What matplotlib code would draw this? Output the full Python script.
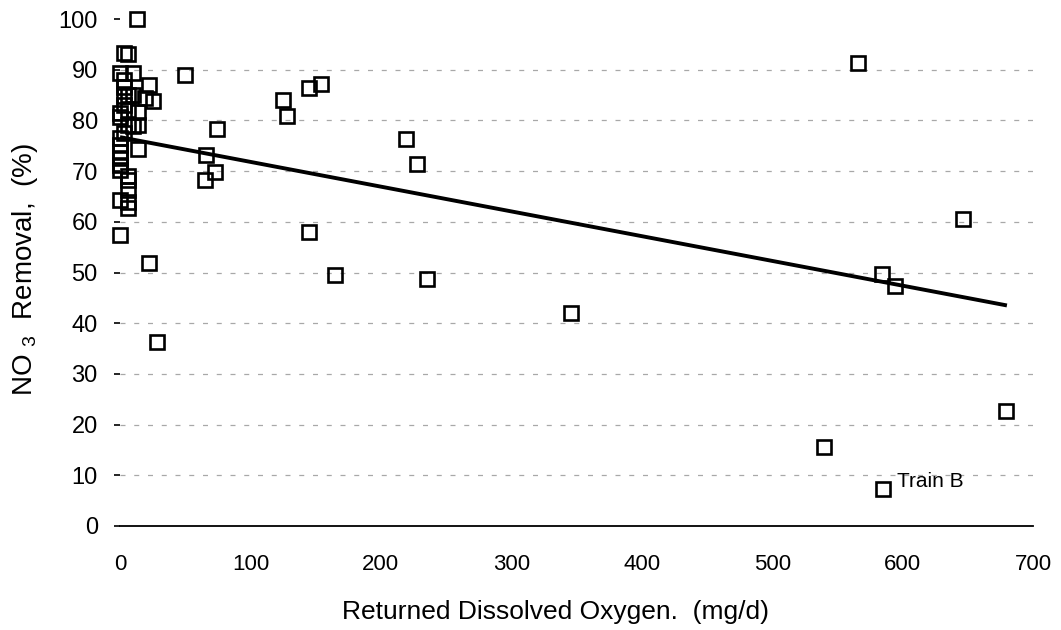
import numpy as np
import matplotlib.pyplot as plt

plt.rcParams['font.family'] = ['Liberation Sans', 'DejaVu Sans']
plt.rcParams['mathtext.fontset'] = 'custom'
plt.rcParams['mathtext.rm'] = 'Liberation Sans'

# returned dissolved oxygen (mg/d) vs NO3 removal (%)
do_x = [0, 0, 0, 0, 0, 0, 0, 0, 0, 0, 0,
        3, 3, 3, 3, 3, 3,
        6, 6, 6, 6, 6, 6, 6, 6, 6,
        10, 10, 10,
        13, 14, 14, 14,
        19, 22, 25,
        22.5, 28.6, 50,
        66, 65, 73, 74,
        125, 128, 145, 154, 219, 228, 145, 165, 235, 346,
        566, 646, 584, 594, 679, 540, 585]
no3_y = [89.4, 81.4, 80.6, 76.5, 75.1, 73.8, 72.5, 71.2, 70.2, 64.3, 57.4,
         93.2, 88.0, 86.5, 84.8, 83.0, 77.5,
         93.0, 85.0, 82.0, 79.1, 69.0, 68.2, 66.2, 64.0, 62.8,
         89.4, 85.0, 78.8,
         100.0, 81.7, 79.1, 74.3,
         84.4, 87.0, 83.8,
         51.8, 36.2, 89.0,
         73.2, 68.2, 69.9, 78.4,
         84.0, 80.9, 86.4, 87.2, 76.3, 71.4, 58.0, 49.5, 48.7, 42.0,
         91.3, 60.6, 49.7, 47.4, 22.6, 15.6, 7.3]

# regression line end points
fit_x = [0, 680]
fit_y = [76.7, 43.5]

x_ticks = [0, 100, 200, 300, 400, 500, 600, 700]
y_ticks = [0, 10, 20, 30, 40, 50, 60, 70, 80, 90, 100]

fig = plt.figure(figsize=(10.61, 6.30), dpi=100)
ax = fig.add_axes([120 / 1061, 1 - 526 / 630, 913 / 1061, 507 / 630])

# broken-looking horizontal grid
for yv in y_ticks[1:-1]:
    ax.axhline(yv, color='#a8a8a8', lw=0.9, ls=(0, (4, 7)), zorder=1)

ax.plot(fit_x, fit_y, color='black', lw=2.8, solid_capstyle='butt', zorder=2)
ax.plot(do_x, no3_y, ls='none', marker='s', ms=9.5, mfc='none', mec='black',
        mew=1.9, clip_on=False, zorder=3)

ax.text(596, 8.7, 'Train B', fontsize=15, ha='left', va='center')

ax.set_xlim(0, 700)
ax.set_ylim(0, 100)
ax.set_xticks(x_ticks)
ax.set_yticks(y_ticks)
ax.tick_params(axis='x', length=0, pad=20, labelsize=16)
ax.tick_params(axis='y', length=4, width=1.2, pad=12, labelsize=17)

for side in ['top', 'right', 'left']:
    ax.spines[side].set_visible(False)
ax.spines['bottom'].set_linewidth(1.3)

fig.text(556 / 1061, 1 - 612 / 630, 'Returned Dissolved Oxygen.  (mg/d)',
         fontsize=19, ha='center', va='center')
fig.text(25 / 1061, 1 - 270 / 630, r'NO $_3$  Removal,  (%)',
         fontsize=20, rotation=90, ha='center', va='center')

fig.savefig('out.png', dpi=100)
